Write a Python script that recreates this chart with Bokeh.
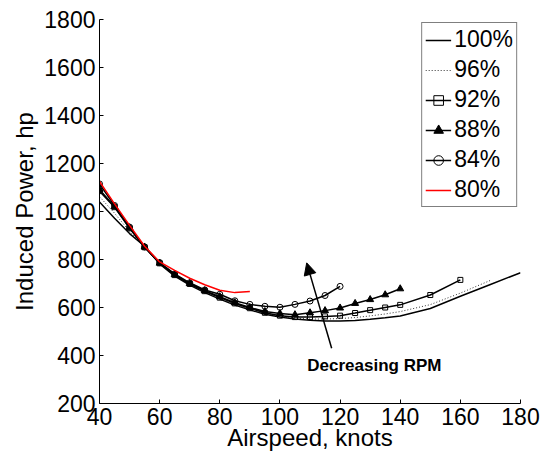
from bokeh.plotting import figure
from bokeh.models import Arrow, NormalHead, Label, FixedTicker, Legend, LegendItem
from bokeh.embed import file_html
from bokeh.resources import INLINE

# ---- data ----
x_100 = [40, 45, 50, 55, 60, 65, 70, 75, 80, 85, 90, 95, 100, 105, 110, 115, 120, 125, 130, 135, 140, 150, 160, 170, 180]
y_100 = [1040, 972, 908, 855, 782, 731, 693, 662, 635, 610, 590, 572, 560, 552, 547, 544, 544, 546, 551, 557, 565, 596, 647, 696, 745]

x_96 = [40, 45, 50, 55, 60, 65, 70, 75, 80, 85, 90, 95, 100, 105, 110, 115, 120, 125, 130, 135, 140, 150, 160, 170]
y_96 = [1062, 993, 917, 852, 782, 733, 696, 665, 638, 613, 593, 575, 563, 556, 552, 552, 554, 558, 565, 573, 583, 612, 660, 713]

x_92 = [40, 45, 50, 55, 60, 65, 70, 75, 80, 85, 90, 95, 100, 105, 110, 115, 120, 125, 130, 135, 140, 150, 160]
y_92 = [1085, 1018, 930, 851, 784, 735, 698, 668, 641, 617, 597, 578, 566, 560, 560, 563, 566, 577, 589, 600, 611, 652, 715]

x_88 = [40, 45, 50, 55, 60, 65, 70, 75, 80, 85, 90, 95, 100, 105, 110, 115, 120, 125, 130, 135, 140]
y_88 = [1092, 1020, 932, 852, 785, 737, 700, 670, 645, 620, 600, 583, 575, 570, 578, 587, 598, 617, 633, 653, 678]

x_84 = [40, 45, 50, 55, 60, 65, 70, 75, 80, 85, 90, 95, 100, 105, 110, 115, 120]
y_84 = [1115, 1025, 935, 852, 787, 740, 703, 673, 655, 628, 613, 605, 601, 613, 627, 650, 688]

x_80 = [40, 45, 50, 55, 60, 65, 70, 75, 80, 85, 90]
y_80 = [1125, 1032, 942, 855, 790, 755, 722, 695, 672, 662, 667]

x_ticks = [40, 60, 80, 100, 120, 140, 160, 180]
y_ticks = [200, 400, 600, 800, 1000, 1200, 1400, 1600, 1800]

FONT = "Liberation Sans"

p = figure(
    frame_width=421, frame_height=384,
    min_border_left=99, min_border_top=19, min_border_right=21, min_border_bottom=55,
    x_range=(40, 180), y_range=(200, 1800),
    output_backend="svg", toolbar_location=None,
)
p.outline_line_color = None
p.xgrid.visible = False
p.ygrid.visible = False
p.background_fill_color = "white"
p.border_fill_color = "white"

for ax, ticks in ((p.xaxis[0], x_ticks), (p.yaxis[0], y_ticks)):
    ax.ticker = FixedTicker(ticks=ticks)
    ax.major_tick_in = 4
    ax.major_tick_out = 0
    ax.minor_tick_line_color = None
    ax.axis_line_color = "black"
    ax.major_tick_line_color = "black"
    ax.major_label_text_font = FONT
    ax.major_label_text_font_size = "23px"
    ax.major_label_text_color = "black"
    ax.major_label_standoff = 4
    ax.axis_label_text_font = FONT
    ax.axis_label_text_font_size = "24px"
    ax.axis_label_text_font_style = "normal"
    ax.axis_label_text_color = "black"

p.yaxis.axis_label = "Induced Power, hp"
p.yaxis.axis_label_standoff = 3
p.xaxis.axis_label = "Airspeed, knots"
p.xaxis.axis_label_standoff = -4

r100 = p.line(x_100, y_100, line_color="black", line_width=1.5)
r96 = p.line(x_96, y_96, line_color="#333333", line_width=1, line_dash="1 2")
r92l = p.line(x_92, y_92, line_color="black", line_width=1.5)
r92m = p.scatter(x_92, y_92, marker="square", size=5, line_color="black", fill_alpha=0, line_width=1)
r88l = p.line(x_88, y_88, line_color="black", line_width=1.5)
r88m = p.scatter(x_88, y_88, marker="triangle", size=7, line_color="black", fill_color="black", line_width=1)
r84l = p.line(x_84, y_84, line_color="black", line_width=1.5)
r84m = p.scatter(x_84, y_84, marker="circle", size=6, line_color="black", fill_alpha=0, line_width=1)
r80 = p.line(x_80, y_80, line_color="#ff0000", line_width=1.5)

legend = Legend(items=[
    LegendItem(label="100%", renderers=[r100]),
    LegendItem(label="96%", renderers=[r96]),
    LegendItem(label="92%", renderers=[r92l, r92m]),
    LegendItem(label="88%", renderers=[r88l, r88m]),
    LegendItem(label="84%", renderers=[r84l, r84m]),
    LegendItem(label="80%", renderers=[r80]),
], location="top_right")
legend.label_text_font = FONT
legend.label_text_font_size = "23px"
legend.label_text_color = "black"
legend.glyph_width = 26
legend.glyph_height = 24
legend.label_height = 24
legend.label_standoff = 3
legend.spacing = 3
legend.padding = 3
legend.margin = 3
legend.border_line_color = "black"
legend.border_line_width = 1
legend.background_fill_alpha = 1
p.add_layout(legend)

p.add_layout(Arrow(end=NormalHead(size=12, fill_color="black", line_color="black"),
                   x_start=117.2, y_start=430, x_end=108.9, y_end=786,
                   line_color="black", line_width=1.5))
p.add_layout(Label(x=109.1, y=360, text="Decreasing RPM", text_font=FONT,
                   text_font_size="17px", text_font_style="bold", text_color="black",
                   text_baseline="middle"))

open("out.html", "w").write(file_html(p, INLINE))
